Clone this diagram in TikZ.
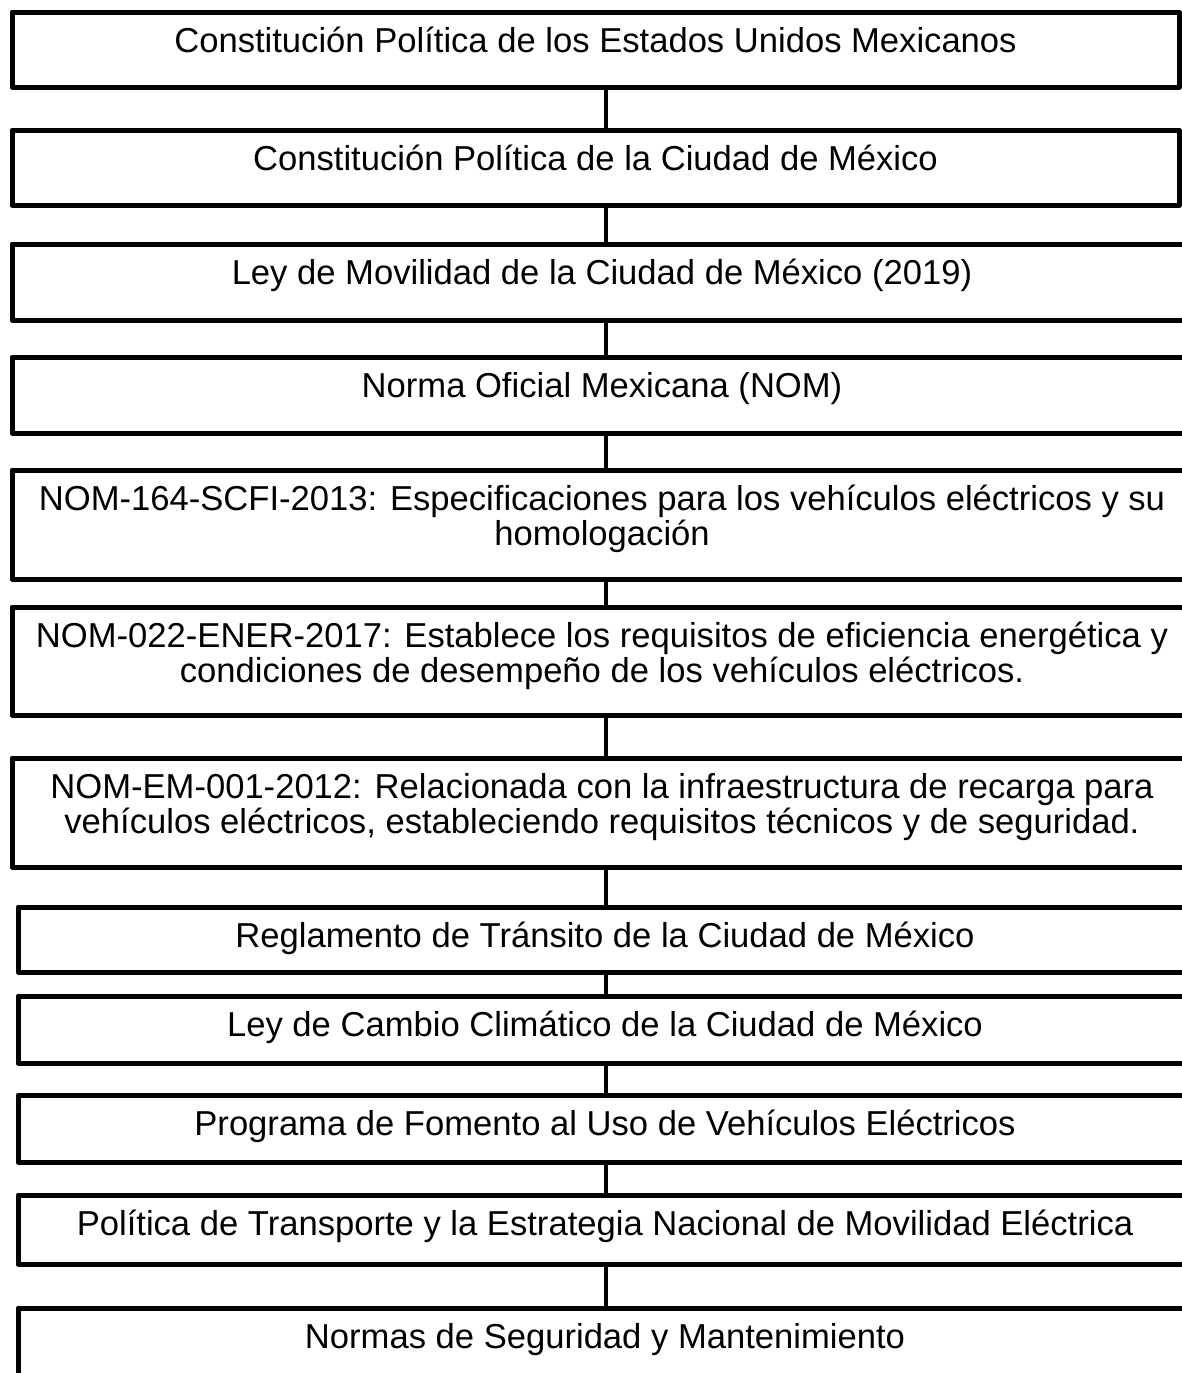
\documentclass[tikz,border=0pt]{standalone}
\usepackage{fontspec}
\setmainfont{Liberation Sans}
\usetikzlibrary{positioning}

\begin{document}
\begin{tikzpicture}[x=1pt, y=1pt]
    \tikzset{Caja/.style={rectangle, draw, line width=5pt, line join=round, outer sep=0pt, inner sep=0pt, anchor=north west}};
    \tikzset{Texto/.style={align=center, inner sep=0pt, anchor=base, font=\fontsize{34.6}{35}\selectfont}};
    \tikzset{Enlace/.style={line width=4pt}};

    \useasboundingbox (0,0) rectangle (1182,-1373);
    \clip (0,0) rectangle (1182,-1373);

    \node[Caja, minimum width=1167pt, minimum height=75pt](c1) at (12,-12) {};
    \node[Caja, minimum width=1167pt, minimum height=75pt](c2) at (12,-130) {};
    \node[Caja, minimum width=1180pt, minimum height=76pt](c3) at (12,-244) {};
    \node[Caja, minimum width=1180pt, minimum height=76pt](c4) at (12,-357) {};
    \node[Caja, minimum width=1180pt, minimum height=109pt](c5) at (12,-470) {};
    \node[Caja, minimum width=1180pt, minimum height=108pt](c6) at (12,-607) {};
    \node[Caja, minimum width=1180pt, minimum height=109pt](c7) at (12,-758) {};
    \node[Caja, minimum width=1174pt, minimum height=65pt](c8) at (18,-907) {};
    \node[Caja, minimum width=1174pt, minimum height=67pt](c9) at (18,-996) {};
    \node[Caja, minimum width=1174pt, minimum height=67pt](c10) at (18,-1095) {};
    \node[Caja, minimum width=1174pt, minimum height=69pt](c11) at (18,-1195) {};
    \node[Caja, minimum width=1174pt, minimum height=92pt](c12) at (18,-1308) {};

    % one line: baseline 40 below the top; two lines: last baseline 75 below
    \node[Texto](t1) at ([yshift=-40pt]c1.north) {Constitución Política de los Estados Unidos Mexicanos};
    \node[Texto](t2) at ([yshift=-40pt]c2.north) {Constitución Política de la Ciudad de México};
    \node[Texto](t3) at ([yshift=-40pt]c3.north) {Ley de Movilidad de la Ciudad de México (2019)};
    \node[Texto](t4) at ([yshift=-40pt]c4.north) {Norma Oficial Mexicana (NOM)};
    \node[Texto](t5) at ([yshift=-75pt]c5.north) {NOM-164-SCFI-2013: Especificaciones para los vehículos eléctricos y su\\ homologación};
    \node[Texto](t6) at ([yshift=-75pt]c6.north) {NOM-022-ENER-2017: Establece los requisitos de eficiencia energética y\\ condiciones de desempeño de los vehículos eléctricos.};
    \node[Texto](t7) at ([yshift=-75pt]c7.north) {NOM-EM-001-2012: Relacionada con la infraestructura de recarga para\\ vehículos eléctricos, estableciendo requisitos técnicos y de seguridad.};
    \node[Texto](t8) at ([yshift=-40pt]c8.north) {Reglamento de Tránsito de la Ciudad de México};
    \node[Texto](t9) at ([yshift=-40pt]c9.north) {Ley de Cambio Climático de la Ciudad de México};
    \node[Texto](t10) at ([yshift=-40pt]c10.north) {Programa de Fomento al Uso de Vehículos Eléctricos};
    \node[Texto](t11) at ([yshift=-40pt]c11.north) {Política de Transporte y la Estrategia Nacional de Movilidad Eléctrica};
    \node[Texto](t12) at ([yshift=-40pt]c12.north) {Normas de Seguridad y Mantenimiento};

    \coordinate (eje) at (606,0);
    \foreach \a/\b in {c1/c2, c2/c3, c3/c4, c4/c5, c5/c6, c6/c7, c7/c8, c8/c9, c9/c10, c10/c11, c11/c12}
        \draw[Enlace] (\a.south -| eje) -- (\b.north -| eje);
\end{tikzpicture}
\end{document}
